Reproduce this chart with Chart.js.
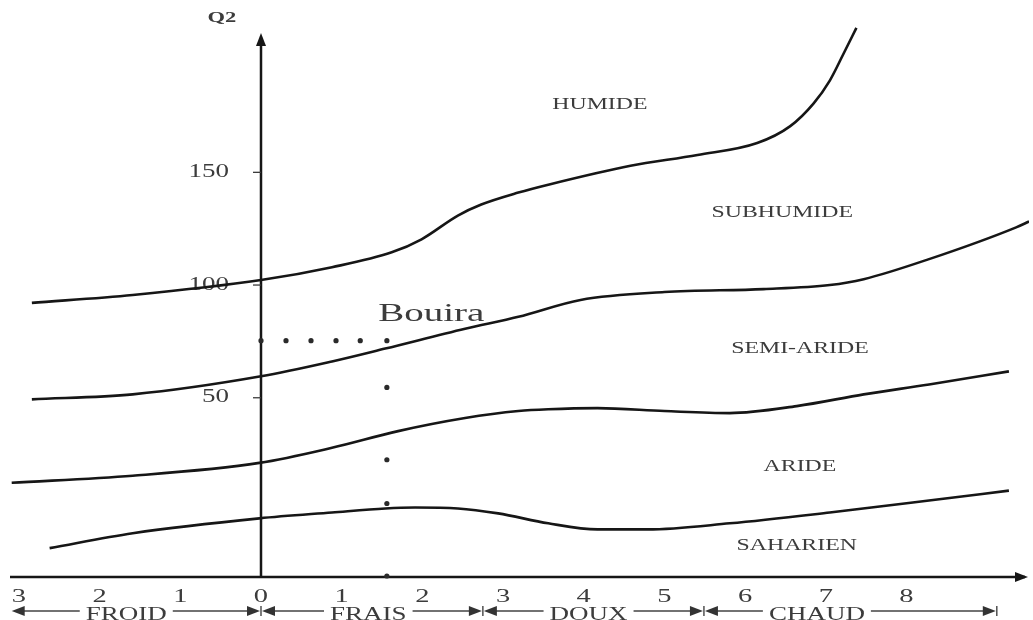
<!DOCTYPE html>
<html>
<head>
    <title>Climagramme d'Emberger - Bouira</title>
    <script src="https://cdn.jsdelivr.net/npm/chart.js@4.4.1/dist/chart.umd.min.js"></script>
    <style type="text/css">
        html, body { margin: 0; padding: 0; background: #fff; }
        #chart-container { width: 1033px; height: 620px; }
    </style>
</head>
<body>
<div id="chart-container">
    <canvas id="mycanvas" width="1033" height="620"></canvas>
</div>
<script>
    // axes : m (°C) en abscisse, Q2 en ordonnée
    var xTickValues = [-3, -2, -1, 0, 1, 2, 3, 4, 5, 6, 7, 8];
    var yTickValues = [50, 100, 150];

    var etages = ["HUMIDE", "SUBHUMIDE", "SEMI-ARIDE", "ARIDE", "SAHARIEN"];
    var classesThermiques = ["FROID", "FRAIS", "DOUX", "CHAUD"];
    var limitesThermiques = [-3.09, 0, 2.75, 5.49, 9.12];

    // limite humide / subhumide
    var lim1M = [-2.84, -1.59, 0, 0.88, 1.62, 1.99, 2.44, 2.73, 3.19, 3.56, 4.58, 5.41, 6.15, 6.56, 6.85, 7.05, 7.22, 7.38];
    var lim1Q = [92.1, 95.6, 102.2, 107.9, 114.5, 120.3, 130.8, 135.7, 141.0, 144.5, 152.9, 157.7, 163.0, 170.5, 180.6, 190.7, 202.6, 214.1];
    // limite subhumide / semi-aride
    var lim2M = [-2.84, -1.59, 0, 0.88, 1.54, 2.53, 3.19, 3.96, 5.0, 6.23, 7.05, 7.47, 8.28, 9.36, 9.52];
    var lim2Q = [49.3, 51.5, 59.5, 66.1, 71.8, 80.6, 85.9, 93.4, 96.9, 98.2, 100.0, 102.6, 111.5, 125.6, 128.2];
    // limite semi-aride / aride
    var lim3M = [-3.09, -1.59, -0.02, 0.88, 1.70, 2.53, 3.19, 3.56, 4.17, 5.0, 5.81, 6.64, 7.47, 8.28, 9.27];
    var lim3Q = [12.3, 15.4, 21.1, 27.8, 35.2, 41.0, 44.1, 44.9, 45.4, 44.1, 43.2, 46.3, 51.5, 55.9, 61.7];
    // limite aride / saharien
    var lim4M = [-2.62, -1.59, -0.02, 0.88, 1.54, 1.91, 2.44, 2.94, 3.56, 4.17, 4.79, 5.81, 7.05, 8.28, 9.27];
    var lim4Q = [-16.7, -10.1, -3.5, -0.9, 0.9, 1.3, 0.9, -1.3, -5.7, -8.4, -8.4, -5.7, -0.9, 4.4, 8.8];

    // station de Bouira et ses repères en pointillés
    var bouiraDotsM = [0, 0.31, 0.62, 0.93, 1.23, 1.56, 1.56, 1.56, 1.56, 1.56];
    var bouiraDotsQ = [75.3, 75.3, 75.3, 75.3, 75.3, 75.3, 54.6, 22.5, 3.1, -29.07];

    function toPoints(xs, ys) {
        return xs.map(function (v, i) { return { x: v, y: ys[i] }; });
    }

    var INK = "#161616";
    var TXT = "#3c3c3c";
    var SERIF = "'Liberation Serif', 'Times New Roman', serif";

    // emplacement des textes (en unités m / Q2)
    var etagePos = [[4.2, 180.2], [6.46, 132.2], [6.68, 71.8], [6.68, 19.4], [6.64, -15.4]];
    var classeLabelM = [-1.67, 1.33, 4.06, 6.89];

    function stretchedText(ctx, txt, x, y, font, align, sx) {
        ctx.save();
        ctx.font = font;
        ctx.textAlign = align;
        ctx.textBaseline = "middle";
        ctx.translate(x, y);
        ctx.scale(sx, 1);
        ctx.fillText(txt, 0, 0);
        ctx.restore();
    }

    function arrowHead(ctx, x, y, dir) {
        var l = 13, h = 5;
        ctx.beginPath();
        if (dir === "right") { ctx.moveTo(x, y); ctx.lineTo(x - l, y - h); ctx.lineTo(x - l, y + h); }
        if (dir === "left") { ctx.moveTo(x, y); ctx.lineTo(x + l, y - h); ctx.lineTo(x + l, y + h); }
        if (dir === "up") { ctx.moveTo(x, y); ctx.lineTo(x - h, y + l); ctx.lineTo(x + h, y + l); }
        ctx.closePath();
        ctx.fill();
    }

    var decor = {
        id: "decor",
        beforeDatasetsDraw: function (chart) {
            var ctx = chart.ctx, xs = chart.scales.x, ys = chart.scales.y;
            var x0 = xs.getPixelForValue(0);
            var yb = chart.chartArea.bottom;
            ctx.save();
            ctx.strokeStyle = INK;
            ctx.fillStyle = INK;
            ctx.lineWidth = 2.5;
            // axe des abscisses
            ctx.beginPath();
            ctx.moveTo(chart.chartArea.left, yb + 1);
            ctx.lineTo(chart.chartArea.right - 4, yb + 1);
            ctx.stroke();
            arrowHead(ctx, chart.chartArea.right - 1, yb + 1, "right");
            // axe des ordonnées
            ctx.beginPath();
            ctx.moveTo(x0, yb);
            ctx.lineTo(x0, 42);
            ctx.stroke();
            arrowHead(ctx, x0, 33, "up");
            // graduations Q2
            ctx.lineWidth = 1.3;
            ctx.strokeStyle = TXT;
            ctx.fillStyle = TXT;
            yTickValues.forEach(function (v) {
                var y = ys.getPixelForValue(v);
                ctx.beginPath();
                ctx.moveTo(x0 - 8, y);
                ctx.lineTo(x0, y);
                ctx.stroke();
                stretchedText(ctx, String(v), x0 - 32, y, "18px " + SERIF, "right", 1.5);
            });
            ctx.restore();
        },
        afterDraw: function (chart) {
            var ctx = chart.ctx, xs = chart.scales.x, ys = chart.scales.y;
            var x0 = xs.getPixelForValue(0);
            ctx.save();
            ctx.fillStyle = TXT;
            stretchedText(ctx, "Q2", x0 - 39, 18, "bold 15px " + SERIF, "center", 1.5);

            // étages bioclimatiques
            etages.forEach(function (t, i) {
                stretchedText(ctx, t, xs.getPixelForValue(etagePos[i][0]), ys.getPixelForValue(etagePos[i][1]),
                    "17px " + SERIF, "center", 1.4);
            });
            stretchedText(ctx, "Bouira", xs.getPixelForValue(2.11), ys.getPixelForValue(87.2),
                "26px " + SERIF, "center", 1.5);

            // graduations de m
            xTickValues.forEach(function (v) {
                stretchedText(ctx, String(Math.abs(v)), xs.getPixelForValue(v), 597, "19px " + SERIF, "center", 1.5);
            });

            // variantes thermiques
            var yA = 611;
            ctx.strokeStyle = "#444";
            ctx.fillStyle = "#333";
            ctx.lineWidth = 1.4;
            classesThermiques.forEach(function (t, i) {
                var a = xs.getPixelForValue(limitesThermiques[i]);
                var b = xs.getPixelForValue(limitesThermiques[i + 1]);
                var c = xs.getPixelForValue(classeLabelM[i]);
                ctx.font = "18px " + SERIF;
                var w = ctx.measureText(t).width * 1.5;
                ctx.beginPath();
                ctx.moveTo(a + 4, yA); ctx.lineTo(c - w / 2 - 6, yA);
                ctx.moveTo(c + w / 2 + 6, yA); ctx.lineTo(b - 4, yA);
                ctx.stroke();
                arrowHead(ctx, a + (i === 0 ? 0 : 1), yA, "left");
                arrowHead(ctx, b - 1, yA, "right");
                ctx.beginPath();
                ctx.moveTo(b, yA - 5); ctx.lineTo(b, yA + 5);
                ctx.stroke();
                ctx.save();
                ctx.fillStyle = TXT;
                ctx.translate(c, 620);
                ctx.scale(1.5, 1);
                ctx.textAlign = "center";
                ctx.textBaseline = "alphabetic";
                ctx.fillText(t, 0, 0);
                ctx.restore();
            });
            ctx.restore();
        }
    };

    function limite(xs, ys) {
        return {
            type: "line",
            data: toPoints(xs, ys),
            borderColor: INK,
            borderWidth: 2.6,
            pointRadius: 0,
            fill: false,
            cubicInterpolationMode: "monotone"
        };
    }

    var ctx = document.getElementById("mycanvas");
    var chart = new Chart(ctx, {
        type: "line",
        data: {
            datasets: [
                limite(lim1M, lim1Q),
                limite(lim2M, lim2Q),
                limite(lim3M, lim3Q),
                limite(lim4M, lim4Q),
                {
                    type: "scatter",
                    data: toPoints(bouiraDotsM, bouiraDotsQ),
                    pointRadius: 2.6,
                    pointBackgroundColor: "#2a2a2a",
                    pointBorderWidth: 0,
                    showLine: false,
                    clip: false
                }
            ]
        },
        options: {
            responsive: false,
            animation: false,
            maintainAspectRatio: false,
            layout: { padding: { left: 10, right: 0, top: 0, bottom: 44 } },
            plugins: { legend: { display: false }, tooltip: { enabled: false } },
            scales: {
                x: { type: "linear", min: -3.111, max: 9.519, display: false },
                y: { type: "linear", min: -29.07, max: 224.67, display: false }
            }
        },
        plugins: [decor]
    });
</script>
</body>
</html>
